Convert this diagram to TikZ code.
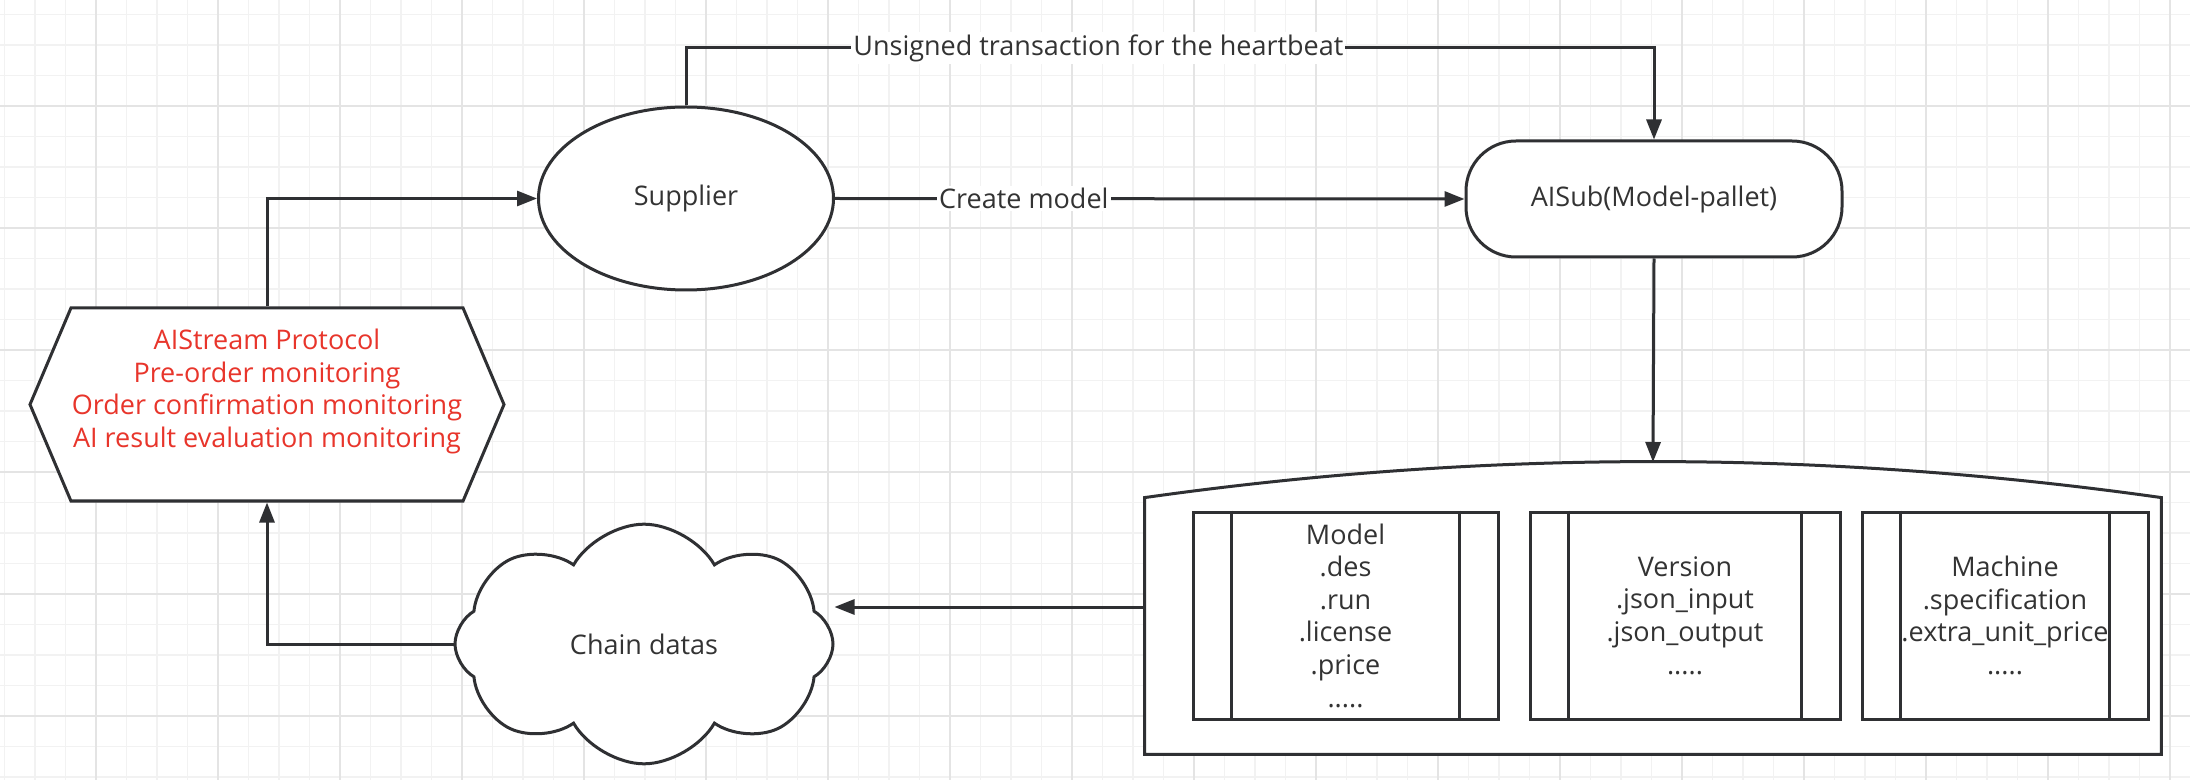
\documentclass[tikz,border=0pt]{standalone}
\usepackage{fontspec}
\setmainfont{Open Sans}
\usepackage{tikz}
\usetikzlibrary{arrows.meta, shapes.geometric, shapes.symbols}

\definecolor{ink}{HTML}{2F3033}
\definecolor{txtgray}{HTML}{333333}
\definecolor{protored}{HTML}{E8352B}
\definecolor{gridminor}{HTML}{F2F2F2}
\definecolor{gridmajor}{HTML}{E4E4E4}

\begin{document}
\begin{tikzpicture}[x=0.5pt, y=-0.5pt,
        font=\fontsize{13.5pt}{16.3pt}\selectfont,
        every node/.style={text=txtgray},
        shapeline/.style={draw=ink, line width=1.5pt, fill=white},
        arr/.style={-{Triangle[length=10pt, width=7.5pt]}, draw=ink, line width=1.5pt},
        lbl/.style={fill=white, inner sep=1pt},
        procbox/.style={shapeline, rectangle, minimum height=103.5pt, align=center, inner sep=0pt}]

            % background and grid
            \fill[white] (0,0) rectangle (2190,780);
            \useasboundingbox (0,0) rectangle (2190,780);
            \foreach \x in {4.5,35,...,2190} \draw[gridminor, line width=0.9pt] (\x,0) -- (\x,780);
            \foreach \y in {14.5,45,...,780} \draw[gridminor, line width=0.9pt] (0,\y) -- (2190,\y);
            \foreach \x in {96,218,...,2190} \draw[gridmajor, line width=1.2pt] (\x,0) -- (\x,780);
            \foreach \y in {106,228,...,780} \draw[gridmajor, line width=1.2pt] (0,\y) -- (2190,\y);

            % nodes
            \node[shapeline, ellipse, minimum width=147.5pt, minimum height=91.5pt, inner sep=0pt] at (686, 198.5) (supplier) {Supplier};
            \node[shapeline, rectangle, rounded corners=25pt, minimum width=188pt, minimum height=58pt] at (1654, 199) (aisub) {AISub(Model-pallet)};
            \node[shapeline, signal, signal to=west and east, signal pointer angle=134, minimum width=237pt, minimum height=96.5pt, inner sep=0pt, align=center, text=protored] at (267, 404.5) (proto)
                {AIStream Protocol\\Pre-order monitoring\\Order confirmation monitoring\\AI result evaluation monitoring\\[-5pt] \strut};
            \node[shapeline, cloud, cloud puffs=8, cloud puff arc=120, minimum width=189pt, minimum height=109pt, inner sep=0pt] at (644, 644) (chain) {Chain datas};

            % store with arched top
            \node[rectangle, minimum width=508pt, minimum height=128pt, inner sep=0pt] at (1653, 626) (store) {};
            \coordinate (arch) at (1653, 462);
            \draw[shapeline] (store.south west) -- (store.north west)
                .. controls ([xshift=169.5pt, yshift=24pt]store.north west) and ([xshift=-169.5pt, yshift=24pt]store.north east) .. (store.north east)
                -- (store.south east) -- cycle;

            \node[procbox, minimum width=152.5pt] at (1345.5, 615.5) (model) {Model\\.des\\.run\\.license\\.price\\.....};
            \node[procbox, minimum width=155pt] at (1685, 615.5) (version) {Version\\.json\_input\\.json\_output\\.....};
            \node[procbox, minimum width=143pt] at (2005, 615.5) (machine) {Machine\\.specification\\.extra\_unit\_price\\.....};
            \foreach \b in {model, version, machine} {
                \draw[ink, line width=1.5pt] ([xshift=20pt]\b.north west) -- ([xshift=20pt]\b.south west);
                \draw[ink, line width=1.5pt] ([xshift=-20pt]\b.north east) -- ([xshift=-20pt]\b.south east);
            }

            % connectors
            \coordinate (beat) at (1654, 48);
            \draw[arr] (supplier.north) |- node[lbl, pos=0.713] {Unsigned transaction for the heartbeat} (beat) -- (aisub.north);
            \draw[arr] (supplier.east) -- node[lbl, pos=0.3] {Create model} (aisub.west);
            \draw[arr] (aisub.south) -- (arch);
            \draw[arr] ([yshift=9.5pt]store.west) -- ([yshift=9.5pt]store.west -| chain.east);
            \draw[arr] (chain.west) -| (proto.south);
            \draw[arr] (proto.north) |- (supplier.west);
        \end{tikzpicture}
\end{document}
